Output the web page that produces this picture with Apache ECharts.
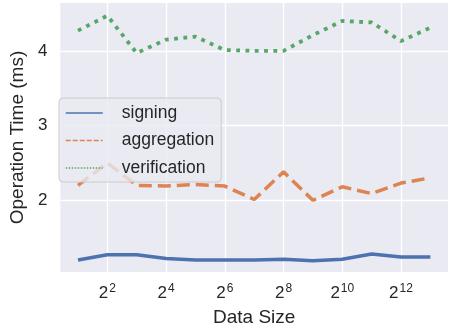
<!DOCTYPE html>
<html><head><meta charset="utf-8">
<script src="https://cdn.jsdelivr.net/npm/echarts@6/dist/echarts.min.js"></script>
<style>html,body{margin:0;padding:0;background:#fff}#c{width:450px;height:332px}</style>
</head><body><div id="c"></div>
<script>
// x values are exponents n of data size 2^n
const exponents = [1,2,3,4,5,6,7,8,9,10,11,12,13];
const xTicks = [2,4,6,8,10,12];
const yTicks = [2,3,4];
const signing = [1.20,1.27,1.27,1.22,1.20,1.20,1.20,1.21,1.19,1.21,1.28,1.24,1.24];
const aggregation = [2.20,2.50,2.20,2.19,2.21,2.19,2.01,2.38,2.00,2.18,2.09,2.23,2.30];
const verification = [4.27,4.47,3.97,4.15,4.19,4.01,4.00,4.00,4.21,4.40,4.38,4.13,4.31];

const font = 'Liberation Sans, Arial, sans-serif';
const txt = '#262626';
const pair = a => exponents.map((n,i)=>[n,a[i]]);

const chart = echarts.init(document.getElementById('c'), null, {renderer:'canvas'});
chart.setOption({
  backgroundColor:'#ffffff',
  animation:false,
  grid:{left:52,right:2,top:3,bottom:56,show:true,backgroundColor:'#eaeaf2',borderWidth:0},
  xAxis:{
    type:'value', min:0.4, max:13.6,
    name:'Data Size', nameLocation:'middle', nameGap:36,
    nameTextStyle:{fontFamily:font,fontSize:19,color:txt},
    axisLine:{show:false}, axisTick:{show:false, customValues:xTicks},
    splitLine:{show:true,lineStyle:{color:'#ffffff',width:1.3}},
    axisLabel:{customValues:xTicks, margin:11, color:txt, fontFamily:font,
      formatter:v=>'{b|2}{s|'+v+'}',
      rich:{b:{fontSize:17,fontFamily:font,color:txt},
            s:{fontSize:12,fontFamily:font,color:txt,verticalAlign:'top',padding:[0,0,9,1]}}}
  },
  yAxis:{
    type:'value', min:1.04, max:4.64,
    name:'Operation Time (ms)', nameLocation:'middle', nameGap:26,
    nameTextStyle:{fontFamily:font,fontSize:19,color:txt},
    axisLine:{show:false}, axisTick:{show:false, customValues:yTicks},
    splitLine:{show:true,lineStyle:{color:'#ffffff',width:1.3}},
    axisLabel:{customValues:yTicks, margin:13, color:txt, fontFamily:font, fontSize:17}
  },
  legend:{
    orient:'vertical', left:59, top:98,
    padding:[6,7,5,6], itemWidth:37, itemHeight:20, itemGap:9.5,
    backgroundColor:'rgba(234,234,242,0.8)', borderColor:'#cccccc', borderWidth:1, borderRadius:4,
    textStyle:{fontFamily:font,fontSize:17.5,color:txt,padding:[0,0,0,14]},
    itemStyle:{opacity:0},
    data:[
      {name:'signing', lineStyle:{width:1.5,type:'solid'}},
      {name:'aggregation', lineStyle:{width:1.5,type:[5,2]}},
      {name:'verification', lineStyle:{width:1.5,type:[1.5,1.5]}}
    ]
  },
  series:[
    {name:'signing',type:'line',data:pair(signing),symbol:'none',
     lineStyle:{color:'#4c72b0',width:3.5},itemStyle:{color:'#4c72b0'}},
    {name:'aggregation',type:'line',data:pair(aggregation),symbol:'none',
     lineStyle:{color:'#dd8452',width:3.5,type:[13,6]},itemStyle:{color:'#dd8452'}},
    {name:'verification',type:'line',data:pair(verification),symbol:'none',
     lineStyle:{color:'#55a868',width:3.8,type:[3.8,5.5]},itemStyle:{color:'#55a868'}}
  ]
});
</script></body></html>
